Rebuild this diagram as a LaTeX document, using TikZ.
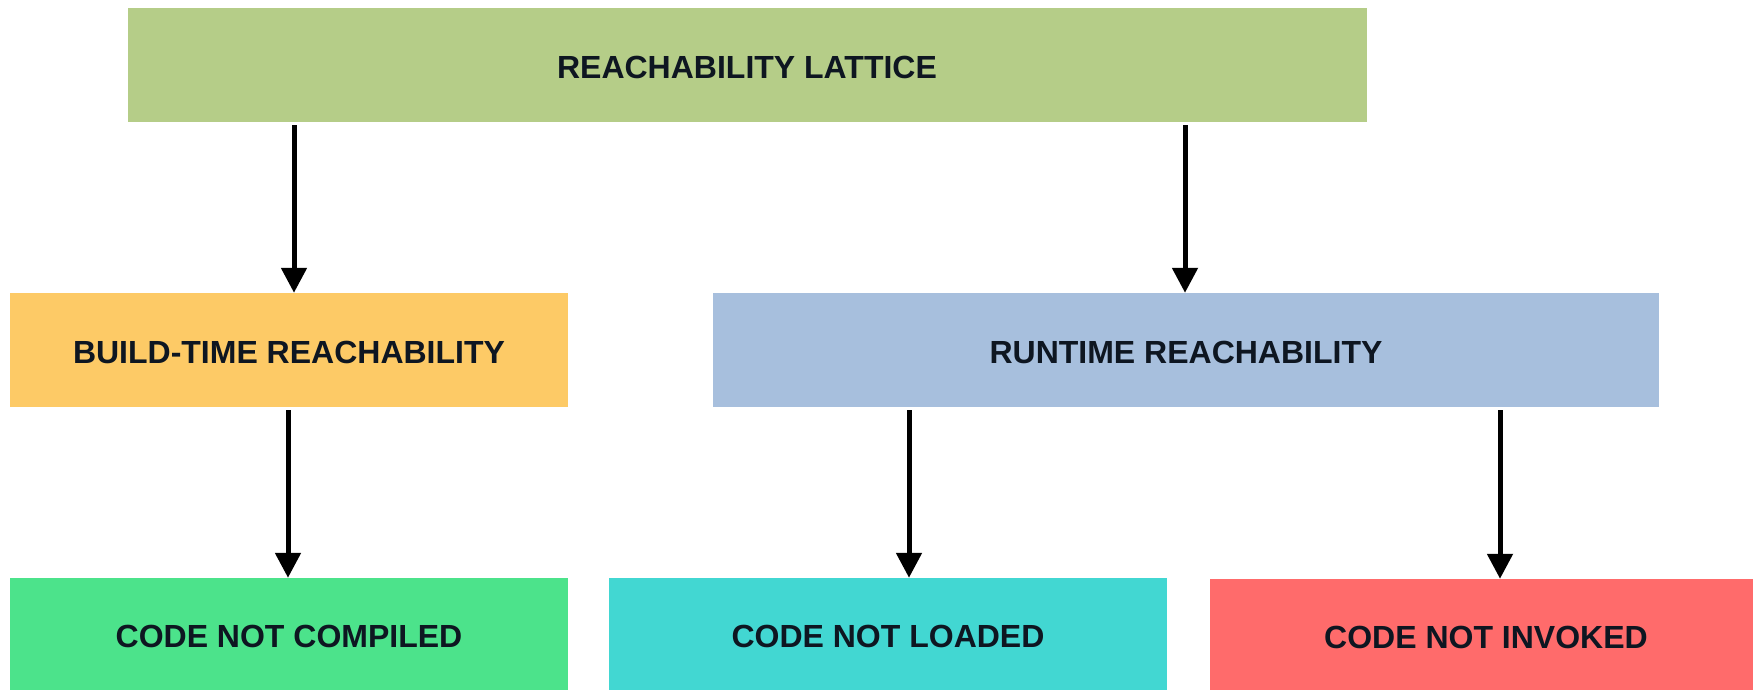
\documentclass[tikz,border=0pt]{standalone}
\usepackage{fontspec}
\setmainfont{Liberation Sans}
\usetikzlibrary{arrows.meta}
\definecolor{cTop}{HTML}{B5CD88}
\definecolor{cBuild}{HTML}{FDCA66}
\definecolor{cRun}{HTML}{A7BFDD}
\definecolor{cComp}{HTML}{4CE38B}
\definecolor{cLoad}{HTML}{42D7D2}
\definecolor{cInv}{HTML}{FF6B6B}
\definecolor{cText}{HTML}{0E1621}
\tikzset{
  box/.style={rectangle, inner sep=0pt, text=cText, text height=27.5pt, text depth=0pt, font=\fontsize{32}{36}\selectfont\bfseries},
  arr/.style={line width=5pt, -{Triangle[width=25pt,length=25pt]}, shorten <=3pt},
}
\begin{document}
\begin{tikzpicture}[x=1pt,y=-1pt]
\useasboundingbox (0,0) rectangle (1753,690);
\node[box, fill=cTop, minimum width=1239pt, minimum height=114pt] (top) at (747,65) {REACHABILITY LATTICE};
\node[box, fill=cBuild, minimum width=558pt, minimum height=114pt] (build) at (289,350) {BUILD-TIME REACHABILITY};
\node[box, fill=cRun, minimum width=946pt, minimum height=114pt] (run) at (1186,350) {RUNTIME REACHABILITY};
\node[box, fill=cComp, minimum width=558pt, minimum height=112pt] (comp) at (289,634) {CODE NOT COMPILED};
\node[box, fill=cLoad, minimum width=558pt, minimum height=112pt] (load) at (888,634) {CODE NOT LOADED};
\node[box, fill=cInv, minimum width=543pt, minimum height=111pt] (inv) at (1481.5,634.5) {\hspace*{9pt}CODE NOT INVOKED};
\draw[arr] (top.south -| 294,0) -- (build.north -| 294,0);
\draw[arr] (top.south -| 1185,0) -- (run.north -| 1185,0);
\draw[arr] (build.south -| 288,0) -- (comp.north -| 288,0);
\draw[arr] (run.south -| 909,0) -- (load.north -| 909,0);
\draw[arr] (run.south -| 1500,0) -- (inv.north -| 1500,0);
\end{tikzpicture}
\end{document}
